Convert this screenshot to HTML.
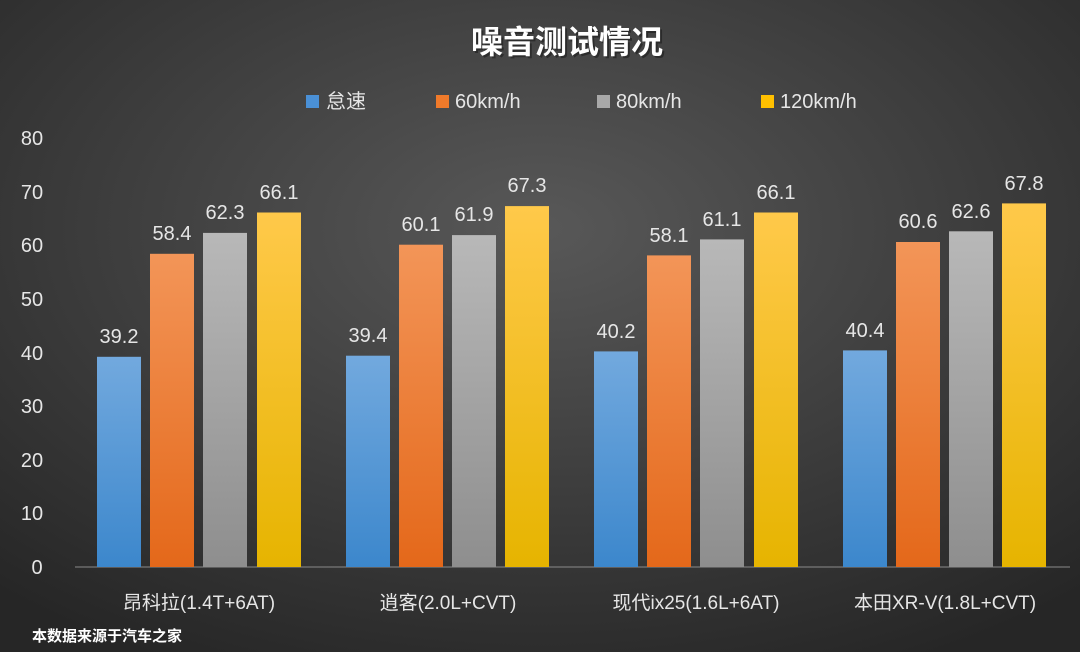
<!DOCTYPE html>
<html><head><meta charset="utf-8"><style>
html,body{margin:0;padding:0;width:1080px;height:652px;overflow:hidden}
svg{display:block}
text{font-family:"Liberation Sans","Noto Sans CJK SC",sans-serif;fill:#e6e6e6}
</style></head><body>
<svg width="1080" height="652" viewBox="0 0 1080 652" xmlns="http://www.w3.org/2000/svg">
<defs>
<radialGradient id="bg" cx="50%" cy="35%" r="75%">
<stop offset="0" stop-color="#585858"/><stop offset="1" stop-color="#262626"/></radialGradient>
<linearGradient id="b" x1="0" y1="0" x2="0" y2="1"><stop offset="0" stop-color="#72a9de"/><stop offset="1" stop-color="#3c87cc"/></linearGradient>
<linearGradient id="o" x1="0" y1="0" x2="0" y2="1"><stop offset="0" stop-color="#f39558"/><stop offset="1" stop-color="#e4681a"/></linearGradient>
<linearGradient id="g" x1="0" y1="0" x2="0" y2="1"><stop offset="0" stop-color="#b8b8b8"/><stop offset="1" stop-color="#8e8e8e"/></linearGradient>
<linearGradient id="y" x1="0" y1="0" x2="0" y2="1"><stop offset="0" stop-color="#ffc94a"/><stop offset="1" stop-color="#e6b400"/></linearGradient>
</defs>
<rect width="1080" height="652" fill="url(#bg)"/>
<text x="569" y="55" text-anchor="middle" font-size="32" font-weight="bold" style="fill:#000;opacity:.35">噪音测试情况</text>
<text x="567" y="53" text-anchor="middle" font-size="32" font-weight="bold" style="fill:#fff">噪音测试情况</text>
<g font-size="20">
<rect x="306" y="95" width="13" height="13" fill="#4a90d6"/><text x="326" y="108">怠速</text>
<rect x="436" y="95" width="13" height="13" fill="#f07a2a"/><text x="455" y="108">60km/h</text>
<rect x="597" y="95" width="13" height="13" fill="#a8a8a8"/><text x="616" y="108">80km/h</text>
<rect x="761" y="95" width="13" height="13" fill="#ffc000"/><text x="780" y="108">120km/h</text>
</g>
<g font-size="20" text-anchor="middle">
<text x="32" y="145">80</text><text x="32" y="199">70</text><text x="32" y="252">60</text><text x="32" y="306">50</text>
<text x="32" y="360">40</text><text x="32" y="413">30</text><text x="32" y="467">20</text><text x="32" y="520">10</text><text x="37" y="574">0</text>
</g>
<line x1="75" y1="567" x2="1070" y2="567" stroke="#8a8a8a" stroke-width="1"/>
<g>
<rect x="97" y="356.8" width="44" height="210.2" fill="url(#b)"/>
<rect x="150" y="253.8" width="44" height="313.2" fill="url(#o)"/>
<rect x="203" y="232.9" width="44" height="334.1" fill="url(#g)"/>
<rect x="257" y="212.5" width="44" height="354.5" fill="url(#y)"/>
<rect x="346" y="355.7" width="44" height="211.3" fill="url(#b)"/>
<rect x="399" y="244.7" width="44" height="322.3" fill="url(#o)"/>
<rect x="452" y="235.1" width="44" height="331.9" fill="url(#g)"/>
<rect x="505" y="206.1" width="44" height="360.9" fill="url(#y)"/>
<rect x="594" y="351.4" width="44" height="215.6" fill="url(#b)"/>
<rect x="647" y="255.4" width="44" height="311.6" fill="url(#o)"/>
<rect x="700" y="239.4" width="44" height="327.6" fill="url(#g)"/>
<rect x="754" y="212.5" width="44" height="354.5" fill="url(#y)"/>
<rect x="843" y="350.4" width="44" height="216.6" fill="url(#b)"/>
<rect x="896" y="242.0" width="44" height="325.0" fill="url(#o)"/>
<rect x="949" y="231.3" width="44" height="335.7" fill="url(#g)"/>
<rect x="1002" y="203.4" width="44" height="363.6" fill="url(#y)"/>
</g>
<g font-size="20" text-anchor="middle">
<text x="119" y="343">39.2</text><text x="172" y="240">58.4</text><text x="225" y="219">62.3</text><text x="279" y="199">66.1</text>
<text x="368" y="342">39.4</text><text x="421" y="231">60.1</text><text x="474" y="221">61.9</text><text x="527" y="192">67.3</text>
<text x="616" y="338">40.2</text><text x="669" y="242">58.1</text><text x="722" y="226">61.1</text><text x="776" y="199">66.1</text>
<text x="865" y="337">40.4</text><text x="918" y="228">60.6</text><text x="971" y="218">62.6</text><text x="1024" y="190">67.8</text>
</g>
<g font-size="19" text-anchor="middle">
<text x="199" y="609">昂科拉(1.4T+6AT)</text>
<text x="448" y="609">逍客(2.0L+CVT)</text>
<text x="696" y="609">现代ix25(1.6L+6AT)</text>
<text x="945" y="609">本田XR-V(1.8L+CVT)</text>
</g>
<text x="32" y="641" font-size="15" font-weight="bold" style="fill:#fff">本数据来源于汽车之家</text>
</svg>
</body></html>
